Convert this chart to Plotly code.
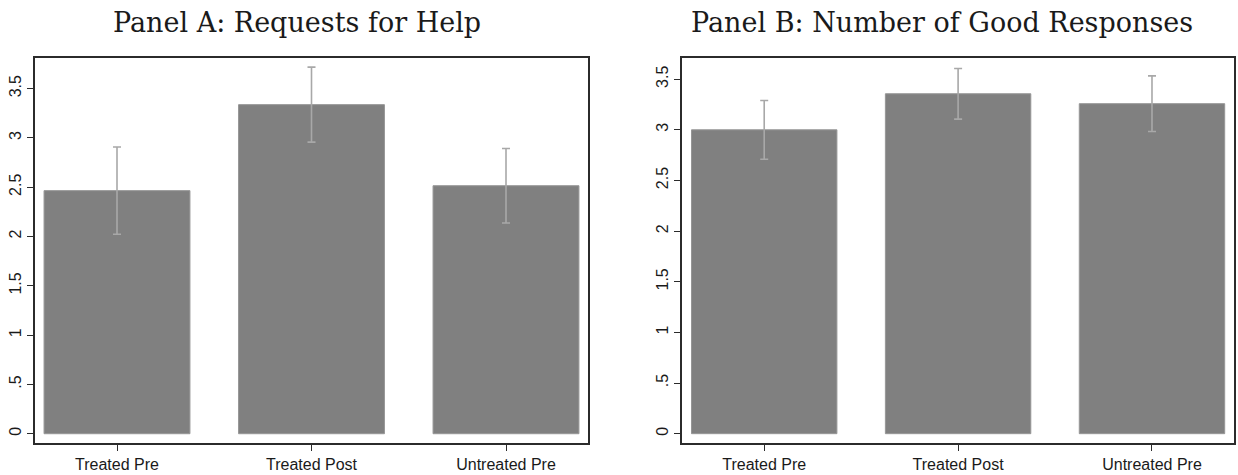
import plotly.graph_objects as go

W, H = 1238, 475

categories = ["Treated Pre", "Treated Post", "Untreated Pre"]

# Panel A: requests for help (mean and 95% CI half-width)
help_mean = [2.465, 3.337, 2.515]
help_ci = [0.442, 0.380, 0.378]

# Panel B: number of good responses
good_mean = [3.000, 3.356, 3.258]
good_ci = [0.290, 0.250, 0.275]

tick_vals = [0, 0.5, 1, 1.5, 2, 2.5, 3, 3.5]
tick_text = ["0", ".5", "1", "1.5", "2", "2.5", "3", "3.5"]

panel_titles = ["Panel A: Requests for Help", "Panel B: Number of Good Responses"]

BAR_FILL = "#808080"
BAR_EDGE = "#969696"
ERR_COLOR = "#a8a8a8"
AXIS_COLOR = "#2b2b2b"
TICK_FONT = dict(family="Liberation Sans, Arial, sans-serif", size=16, color="#1a1a1a")

fig = go.Figure()

for i, (mean, ci) in enumerate([(help_mean, help_ci), (good_mean, good_ci)]):
    sfx = "" if i == 0 else "2"
    fig.add_trace(go.Bar(
        x=categories, y=mean, width=0.75,
        marker=dict(color=BAR_FILL, line=dict(color=BAR_EDGE, width=1)),
        error_y=dict(type="data", array=ci, visible=True, color=ERR_COLOR,
                     thickness=1.6, width=4),
        xaxis="x" + sfx, yaxis="y" + sfx, showlegend=False,
    ))

# pixel-based plot areas
top_px, bot_px = 58, 443.3
domains = [(35, 588), (682, 1234)]
y_ranges = [(-0.094, 3.81), (-0.092, 3.709)]
x_ranges = [(-0.4216, 2.4216), (-0.424, 2.423)]

layout = dict(
    width=W, height=H,
    margin=dict(l=0, r=0, t=top_px, b=H - bot_px),
    paper_bgcolor="white", plot_bgcolor="white",
    bargap=0.25,
)
for i in range(2):
    sfx = "" if i == 0 else "2"
    d0, d1 = domains[i]
    layout["xaxis" + sfx] = dict(
        domain=[d0 / W, d1 / W], range=list(x_ranges[i]), type="category",
        anchor="y" + sfx,
        showline=True, linecolor=AXIS_COLOR, linewidth=1.6, mirror=True,
        ticks="outside", ticklen=6, tickcolor=AXIS_COLOR, tickwidth=1,
        showgrid=False, zeroline=False, tickfont=TICK_FONT,
    )
    layout["yaxis" + sfx] = dict(
        range=list(y_ranges[i]), anchor="x" + sfx,
        showline=True, linecolor=AXIS_COLOR, linewidth=1.6, mirror=True,
        ticks="outside", ticklen=6, tickcolor=AXIS_COLOR, tickwidth=1,
        tickvals=tick_vals, ticktext=tick_text, tickangle=-90,
        showgrid=False, zeroline=False, tickfont=TICK_FONT,
    )

plot_h = bot_px - top_px
title_centers = [297, 942]
annotations = []
for t, cx in zip(panel_titles, title_centers):
    annotations.append(dict(
        text=t, xref="paper", yref="paper",
        x=cx / W, y=(bot_px - 22) / plot_h,
        xanchor="center", yanchor="middle", showarrow=False,
        font=dict(family="DejaVu Serif, serif", size=27, color="#1a1a1a"),
    ))
layout["annotations"] = annotations

fig.update_layout(**layout)
fig.write_html("out.html")
